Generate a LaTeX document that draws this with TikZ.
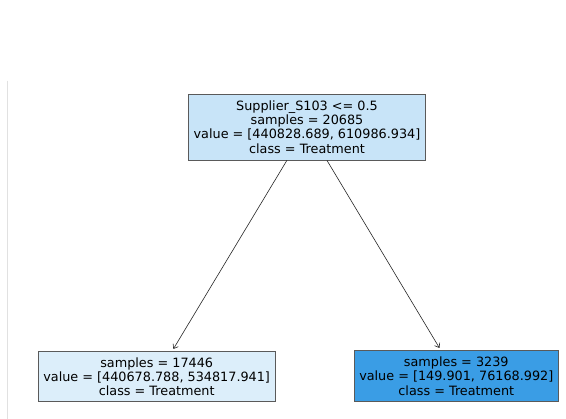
\documentclass[tikz,border=0pt]{standalone}
\usepackage{fontspec}
\setmainfont{DejaVu Sans}
\usetikzlibrary{arrows.meta}
\definecolor{rootfill}{RGB}{200,228,248}
\definecolor{leftfill}{RGB}{220,238,250}
\definecolor{rightfill}{RGB}{58,157,229}
\definecolor{frame}{RGB}{90,90,90}
\definecolor{axisline}{RGB}{225,225,225}
\tikzset{
  treenode/.style={draw=frame, line width=0.8pt, rectangle, inner sep=0pt,
    align=center, font=\fontsize{12.8}{14.2}\selectfont, text=black},
  treeedge/.style={draw=black!85, line width=0.6pt,
    -{Straight Barb[length=4pt,width=6pt,line width=0.6pt]}, shorten >=2.7pt}
}
\begin{document}
\begin{tikzpicture}[x=1pt,y=-1pt]
  \useasboundingbox (0,0) rectangle (566,419);
  \fill[white] (0,0) rectangle (566,419);
  % thin axis edge on the left
  \coordinate (axtop) at (7.5,80.7);
  \coordinate (axbot) at (7.5,419);
  \draw[axisline, line width=1.2pt] (axtop) -- (axbot);
  % decision tree nodes
  \node[treenode, fill=rootfill, minimum width=237pt, minimum height=66pt]
    (root) at (307,127)
    {Supplier\_S103 <= 0.5\\samples = 20685\\value = [440828.689, 610986.934]\\class = Treatment};
  \node[treenode, fill=leftfill, minimum width=236.7pt, minimum height=50pt]
    (left) at (156.7,376.7)
    {samples = 17446\\value = [440678.788, 534817.941]\\class = Treatment};
  \node[treenode, fill=rightfill, minimum width=204pt, minimum height=51pt]
    (right) at (456.3,376.2)
    {samples = 3239\\value = [149.901, 76168.992]\\class = Treatment};
  % branches
  \draw[treeedge] (root) -- (left);
  \draw[treeedge] (root) -- (right);
\end{tikzpicture}
\end{document}
